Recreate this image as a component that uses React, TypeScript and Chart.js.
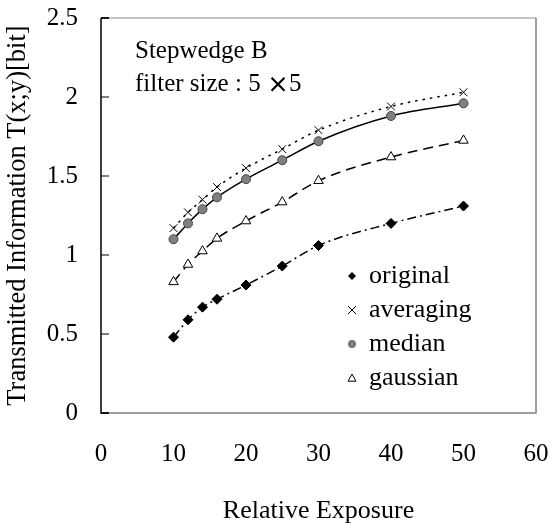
import React, { useEffect, useRef } from "react";
import { Chart, registerables } from "chart.js";

Chart.register(...registerables);

const exposures = [10, 12, 14, 16, 20, 25, 30, 40, 50];
const originalValues = [0.48, 0.59, 0.67, 0.72, 0.81, 0.93, 1.06, 1.2, 1.31];
const averagingValues = [1.17, 1.27, 1.35, 1.43, 1.55, 1.67, 1.79, 1.94, 2.03];
const medianValues = [1.1, 1.2, 1.29, 1.365, 1.48, 1.6, 1.72, 1.88, 1.96];
const gaussianValues = [0.83, 0.94, 1.025, 1.105, 1.215, 1.335, 1.47, 1.62, 1.725];
const seriesLabels = ["original", "averaging", "median", "gaussian"];
const annotationTitle = "Stepwedge B";
const annotationParts = ["filter size : 5 ", "×", "5"];
const xTitle = "Relative Exposure";
const yTitle = "Transmitted Information T(x;y)[bit]";

const FONT = "'Liberation Serif', 'Times New Roman', serif";
const CJK = "'Noto Sans CJK JP', sans-serif";

function toPoints(vals: number[]) {
  return exposures.map((x, i) => ({ x, y: vals[i] }));
}

function drawMarker(ctx: CanvasRenderingContext2D, style: string, x: number, y: number, r: number, fill: string) {
  ctx.save();
  ctx.lineWidth = 1;
  ctx.strokeStyle = "#000";
  ctx.fillStyle = fill;
  ctx.beginPath();
  if (style === "rectRot") {
    ctx.moveTo(x, y - r);
    ctx.lineTo(x + r, y);
    ctx.lineTo(x, y + r);
    ctx.lineTo(x - r, y);
    ctx.closePath();
    ctx.fill();
  } else if (style === "crossRot") {
    ctx.moveTo(x - r, y - r);
    ctx.lineTo(x + r, y + r);
    ctx.moveTo(x + r, y - r);
    ctx.lineTo(x - r, y + r);
    ctx.stroke();
  } else if (style === "circle") {
    ctx.arc(x, y, r, 0, Math.PI * 2);
    ctx.fill();
    ctx.strokeStyle = "#555";
    ctx.stroke();
  } else if (style === "triangle") {
    ctx.moveTo(x, y - r);
    ctx.lineTo(x + r, y + r * 0.8);
    ctx.lineTo(x - r, y + r * 0.8);
    ctx.closePath();
    ctx.fill();
    ctx.stroke();
  }
  ctx.restore();
}

const decorPlugin = {
  id: "decor",
  afterDraw(chart: any) {
    const { ctx, chartArea } = chart;
    const { left, right, top, bottom } = chartArea;
    ctx.save();
    // frame
    ctx.lineWidth = 1.5;
    ctx.strokeStyle = "#b0b0b0";
    ctx.beginPath();
    ctx.moveTo(left, top);
    ctx.lineTo(right, top);
    ctx.stroke();
    ctx.strokeStyle = "#808080";
    ctx.beginPath();
    ctx.moveTo(right, top);
    ctx.lineTo(right, bottom);
    ctx.lineTo(left, bottom);
    ctx.stroke();
    ctx.strokeStyle = "#000";
    ctx.beginPath();
    ctx.moveTo(left, top);
    ctx.lineTo(left, bottom);
    ctx.lineTo(left + 8, bottom);
    ctx.moveTo(left, top);
    ctx.lineTo(left + 8, top);
    ctx.stroke();
    // inward y ticks
    const yScale = chart.scales.y;
    ctx.lineWidth = 1;
    yScale.ticks.forEach((t: any) => {
      const py = yScale.getPixelForValue(t.value);
      ctx.beginPath();
      ctx.moveTo(left, py);
      ctx.lineTo(left + 8, py);
      ctx.stroke();
    });
    // annotation text
    ctx.fillStyle = "#000";
    ctx.font = `25px ${FONT}`;
    ctx.textBaseline = "middle";
    ctx.textAlign = "left";
    const ax = left + 34;
    ctx.fillText(annotationTitle, ax, top + 33);
    let cx = ax;
    const ly = top + 66;
    ctx.fillText(annotationParts[0], cx, ly);
    cx += ctx.measureText(annotationParts[0]).width;
    ctx.font = `bold 22px ${CJK}`;
    ctx.fillText(annotationParts[1], cx, ly);
    cx += ctx.measureText(annotationParts[1]).width;
    ctx.font = `25px ${FONT}`;
    ctx.fillText(annotationParts[2], cx, ly);
    // legend
    const legX = left + 251;
    const legY = bottom - 137;
    ctx.font = `26px ${FONT}`;
    chart.data.datasets.forEach((ds: any, i: number) => {
      const y = legY + i * 34;
      drawMarker(ctx, ds.pointStyle, legX, y, ds.pointStyle === "circle" ? 3.5 : 4, ds.pointBackgroundColor);
      ctx.fillStyle = "#000";
      ctx.fillText(ds.label, legX + 17, y);
    });
    ctx.restore();
  },
};

export default function App() {
  const ref = useRef<HTMLCanvasElement | null>(null);
  useEffect(() => {
    document.body.style.margin = "0";
    document.body.style.overflow = "hidden";
    if (!ref.current) return;
    const common = {
      showLine: true,
      borderColor: "#000",
      borderWidth: 1.5,
      cubicInterpolationMode: "monotone" as const,
      pointBorderColor: "#000",
      pointBorderWidth: 1,
    };
    const chart = new Chart(ref.current, {
      type: "scatter",
      data: {
        datasets: [
          {
            ...common,
            label: seriesLabels[0],
            data: toPoints(originalValues),
            borderDash: [9, 4, 2, 4],
            pointStyle: "rectRot",
            pointRadius: 5,
            pointBackgroundColor: "#000",
          },
          {
            ...common,
            label: seriesLabels[1],
            data: toPoints(averagingValues),
            borderDash: [2.5, 5],
            pointStyle: "crossRot",
            pointRadius: 5.5,
            pointBackgroundColor: "#000",
          },
          {
            ...common,
            label: seriesLabels[2],
            data: toPoints(medianValues),
            pointStyle: "circle",
            pointRadius: 4.5,
            pointBackgroundColor: "#808080",
            pointBorderColor: "#444",
          },
          {
            ...common,
            label: seriesLabels[3],
            data: toPoints(gaussianValues),
            borderDash: [10, 6],
            pointStyle: "triangle",
            pointRadius: 5.5,
            pointBackgroundColor: "#fff",
          },
        ] as any,
      },
      options: {
        animation: false,
        responsive: false,
        devicePixelRatio: 1,
        layout: { padding: { left: 0, top: 18, right: 21, bottom: 0 } },
        plugins: { legend: { display: false }, tooltip: { enabled: false } },
        scales: {
          x: {
            type: "linear",
            min: 0,
            max: 60,
            ticks: { stepSize: 10, color: "#000", font: { family: FONT, size: 25 }, padding: 26, maxRotation: 0 },
            grid: { display: false, drawTicks: false },
            border: { display: false },
            title: { display: true, text: xTitle, color: "#000", font: { family: FONT, size: 26 }, padding: { top: 0, bottom: 4 } },
            afterFit: (s: any) => {
              s.height = 118;
              s.paddingLeft = 0;
              s.paddingRight = 0;
            },
          },
          y: {
            type: "linear",
            min: 0,
            max: 2.5,
            ticks: {
              stepSize: 0.5,
              color: "#000",
              font: { family: FONT, size: 25 },
              padding: 23,
              callback: (v: any) => `${v}`,
            },
            grid: { display: false, drawTicks: false },
            border: { display: false },
            title: { display: true, text: yTitle, color: "#000", font: { family: FONT, size: 26.5 }, padding: { top: 2, bottom: 0 } },
            afterFit: (s: any) => {
              s.width = 101;
              s.paddingTop = 0;
              s.paddingBottom = 0;
            },
          },
        },
      },
      plugins: [decorPlugin],
    });
    return () => chart.destroy();
  }, []);
  return <canvas ref={ref} width={557} height={531} style={{ display: "block" }} />;
}
